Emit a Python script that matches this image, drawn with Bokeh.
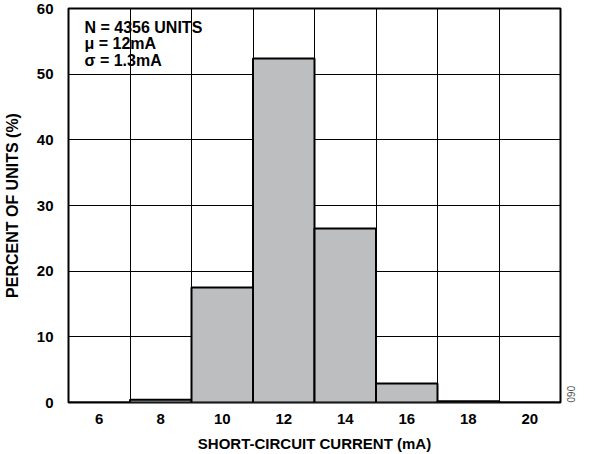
from bokeh.plotting import figure
from bokeh.models import FixedTicker, Label, Range1d, Title
from bokeh.embed import file_html
from bokeh.resources import INLINE

currents = [6, 8, 10, 12, 14, 16, 18, 20]
percent = [0.0, 0.4, 17.5, 52.4, 26.5, 2.9, 0.2, 0.0]
y_ticks = [0, 10, 20, 30, 40, 50, 60]
stats_lines = ["N = 4356 UNITS", "\u03bc = 12mA", "\u03c3 = 1.3mA"]

FONT = "Liberation Sans"

p = figure(width=589, height=454, output_backend="svg", toolbar_location=None,
           x_range=Range1d(5, 21), y_range=Range1d(0, 60),
           min_border_left=66, min_border_right=29, min_border_top=8, min_border_bottom=52)

p.vbar(x=currents, top=percent, width=2, fill_color="#BCBEC0",
       line_color="black", line_width=2)

# grid
p.xgrid.ticker = FixedTicker(ticks=[c + 1 for c in currents[:-1]])
p.ygrid.ticker = FixedTicker(ticks=y_ticks[1:-1])
for g in (p.xgrid, p.ygrid):
    g.grid_line_color = "black"
    g.grid_line_width = 1
    g.grid_line_alpha = 1.0
    g.level = "underlay"

p.outline_line_color = "black"
p.outline_line_width = 2
p.outline_line_alpha = 1.0

p.xaxis.ticker = FixedTicker(ticks=currents)
p.yaxis.ticker = FixedTicker(ticks=y_ticks)
for ax in (p.xaxis[0], p.yaxis[0]):
    ax.axis_line_color = None
    ax.major_tick_line_color = None
    ax.minor_tick_line_color = None
    ax.major_label_text_font = FONT
    ax.major_label_text_font_style = "bold"
    ax.major_label_text_font_size = "15px"
    ax.major_label_text_color = "black"
    ax.axis_label_text_font = FONT
    ax.axis_label_text_font_style = "bold"
    ax.axis_label_text_color = "black"

p.xaxis.axis_label = "SHORT-CIRCUIT CURRENT (mA)"
p.yaxis.axis_label = "PERCENT OF UNITS (%)"
p.xaxis.axis_label_text_font_size = "15px"
p.yaxis.axis_label_text_font_size = "16px"
p.xaxis.major_label_standoff = 5
p.yaxis.major_label_standoff = 9
p.xaxis.axis_label_standoff = 8
p.yaxis.axis_label_standoff = 13

for i, line in enumerate(stats_lines):
    p.add_layout(Label(x=5.52, y=57.15 - 2.54 * i, text=line, text_font=FONT,
                       text_font_style="bold", text_font_size="16px",
                       text_baseline="middle", text_align="left", text_color="black"))

p.add_layout(Title(text="060", text_font=FONT, text_font_size="10px",
                   text_font_style="normal", text_color="#555555",
                   align="right", offset=0, standoff=12), "right")

open("out.html", "w").write(file_html(p, INLINE))
